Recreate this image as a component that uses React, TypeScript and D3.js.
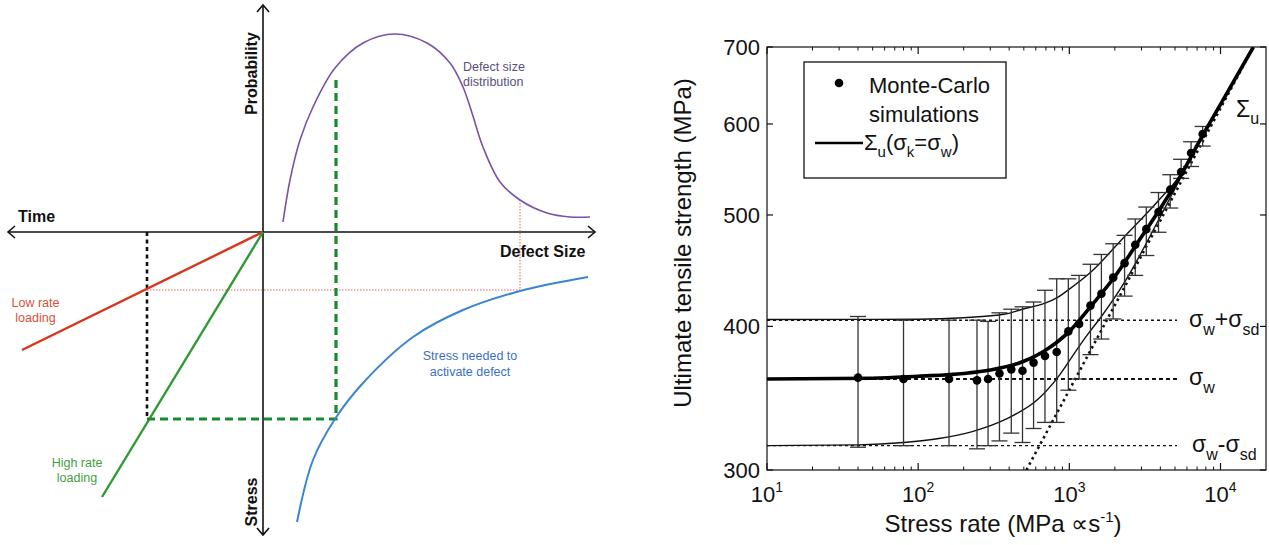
import React from 'react';
import * as d3 from 'd3';

// ---------- Right chart: Monte-Carlo data ----------
const mcRates = [40, 80, 160, 245, 290, 345, 413, 490, 580, 690, 825, 985, 1160, 1380, 1630, 1950, 2320, 2730, 3230, 3890, 4650, 5490, 6390, 7620];
const mcMean = [361, 360, 360, 359, 360, 364, 367, 366, 372, 377, 380, 396, 402, 417, 427, 441, 454, 471, 486, 503, 526, 545, 566, 588];
const mcLow = [314, 315, 315, 313, 315, 318, 323, 317, 326, 330, 330, 352, 360, 378, 390, 406, 425, 443, 461, 483, 507, 538, 551, 574];
const mcHigh = [408, 405, 405, 405, 404, 411, 414, 416, 420, 430, 440, 440, 443, 453, 462, 472, 480, 496, 508, 523, 542, 559, 579, 597];

// Sigma_u(sigma_k = sigma_w) thick curve
const sigURates = [10, 50, 100, 200, 300, 500, 700, 1000, 1400, 2000, 2800, 3900, 5500, 7600, 10000, 16500];
const sigUVals = [360, 360.5, 362, 364, 366.5, 373, 381.5, 396, 417, 442, 472, 504, 542, 586, 624, 700];
// upper thin curve (sigma_k = sigma_w + sigma_sd)
const upRates = [10, 100, 200, 377, 490, 690, 837, 1000, 1390, 2320, 3800, 5490, 7600, 10000, 16500];
const upVals = [405.5, 405.8, 407, 410, 414, 419, 424, 431, 446, 479, 513, 543, 586, 624, 700];
// lower thin curve (sigma_k = sigma_w - sigma_sd)
const loRates = [10, 40, 80, 137, 228, 377, 625, 837, 1140, 1330, 1630, 2320, 3800, 5490, 7600, 10000, 16500];
const loVals = [315, 315.5, 317, 319.5, 324, 332, 346, 361, 383, 394, 408, 437, 492, 540, 586, 624, 700];
// asymptote (dotted)
const asymRates = [520, 16500];
const asymVals = [300, 700];

// reference levels
const refLevels = [405, 360, 315];
const refLabelMain = ['σ', 'σ', 'σ'];

const yTicks = [300, 400, 500, 600, 700];
const xTicks = [10, 100, 1000, 10000];
const xTickExp = ['1', '2', '3', '4'];

// ---------- Left schematic data (units relative to axes origin) ----------
const defectDistX = [20, 27, 37, 50, 72, 100, 132, 164, 187, 200, 209, 220, 237, 257, 284, 307, 327];
const defectDistY = [10, 52, 92, 125, 164, 189, 198, 189, 169, 145, 119, 85, 50, 32, 19, 15, 15];
const stressNeededX = [34, 50, 72, 100, 150, 200, 257, 325];
const stressNeededY = [-290, -228, -187, -151, -105, -78, -59, -45];
const lowRateLine = [[0, 0], [-241, -118]];
const highRateLine = [[0, 0], [-161, -265]];
const loadTime = -116;
const highStress = -187;
const highDefect = 73;
const highProb = 157;
const lowStress = -58;
const lowDefect = 257;
const lowProb = 32;

const FONT = "'Liberation Sans', Arial, Helvetica, sans-serif";

export default function App() {
  // right chart scales
  const x = d3.scaleLog().domain([10, 20000]).range([767, 1266]);
  const y = d3.scaleLog().domain([300, 700]).range([470, 47]);
  const [L, R] = x.range();
  const [B, T] = y.range();
  const curve = (rs: number[], vs: number[]) =>
    d3.line<number>().x((_, i) => x(rs[i])).y((_, i) => y(vs[i])).curve(d3.curveMonotoneX)(rs) as string;

  const minorX: number[] = [];
  for (let d = 1; d <= 4; d++) for (let k = 2; k <= 9; k++) {
    const v = k * Math.pow(10, d);
    if (v < 20000) minorX.push(v);
  }

  // schematic scales
  const sx = d3.scaleLinear().domain([-255, 332]).range([8, 595]);
  const sy = d3.scaleLinear().domain([-303, 227]).range([535, 5]);
  const sLine = (xs: number[], ys: number[]) =>
    d3.line<number>().x((_, i) => sx(xs[i])).y((_, i) => sy(ys[i])).curve(d3.curveCatmullRom.alpha(0.5))(xs) as string;

  const ox = sx(0), oy = sy(0);
  const xLeft = sx(-255), xRight = sx(332), yTop = sy(227), yBot = sy(-303);

  const capW = 8;

  return (
    <svg width={1269} height={545} style={{ position: 'absolute', left: 0, top: 0, background: '#fff' }} fontFamily={FONT}>
      <rect x={0} y={0} width={1269} height={545} fill="#fff" />
      {/* ================= LEFT SCHEMATIC ================= */}
      <g>
        <line x1={xLeft} y1={oy} x2={xRight} y2={oy} stroke="#111" strokeWidth={1.6} />
        <line x1={ox} y1={yTop} x2={ox} y2={yBot} stroke="#111" strokeWidth={1.6} />
        <path d={`M${xLeft + 7},${oy - 6} L${xLeft},${oy} L${xLeft + 7},${oy + 6}`} fill="none" stroke="#111" strokeWidth={1.6} />
        <path d={`M${xRight - 7},${oy - 6} L${xRight},${oy} L${xRight - 7},${oy + 6}`} fill="none" stroke="#111" strokeWidth={1.6} />
        <path d={`M${ox - 6},${yTop + 7} L${ox},${yTop} L${ox + 6},${yTop + 7}`} fill="none" stroke="#111" strokeWidth={1.6} />
        <path d={`M${ox - 6},${yBot - 7} L${ox},${yBot} L${ox + 6},${yBot - 7}`} fill="none" stroke="#111" strokeWidth={1.6} />

        <line x1={sx(loadTime)} y1={oy} x2={sx(loadTime)} y2={sy(highStress)} stroke="#111" strokeWidth={2.6} strokeDasharray="4,3.5" />
        <line x1={sx(loadTime)} y1={sy(lowStress)} x2={sx(lowDefect)} y2={sy(lowStress)} stroke="#e8514a" strokeWidth={0.9} strokeDasharray="1.5,1.5" />
        <line x1={sx(lowDefect)} y1={sy(lowProb)} x2={sx(lowDefect)} y2={sy(lowStress)} stroke="#e8514a" strokeWidth={0.9} strokeDasharray="1.5,1.5" />

        <line x1={sx(lowRateLine[0][0])} y1={sy(lowRateLine[0][1])} x2={sx(lowRateLine[1][0])} y2={sy(lowRateLine[1][1])} stroke="#d9341e" strokeWidth={2.4} />
        <line x1={sx(highRateLine[0][0])} y1={sy(highRateLine[0][1])} x2={sx(highRateLine[1][0])} y2={sy(highRateLine[1][1])} stroke="#2e9a36" strokeWidth={2.4} />

        <path d={`M${sx(loadTime)},${sy(highStress)} L${sx(highDefect)},${sy(highStress)} L${sx(highDefect)},${sy(highProb)}`} fill="none" stroke="#178a2c" strokeWidth={3.2} strokeDasharray="8,5" />

        <path d={sLine(defectDistX, defectDistY)} fill="none" stroke="#7b52a6" strokeWidth={1.6} />
        <path d={sLine(stressNeededX, stressNeededY)} fill="none" stroke="#3a84d2" strokeWidth={2} />

        <text x={18} y={222} fontSize={16} fontWeight="bold" fill="#111">Time</text>
        <text x={500} y={257} fontSize={16} fontWeight="bold" fill="#111">Defect Size</text>
        <text transform={`translate(257,73.5) rotate(-90)`} textAnchor="middle" fontSize={16} fontWeight="bold" fill="#111">Probability</text>
        <text transform={`translate(257,502) rotate(-90)`} textAnchor="middle" fontSize={16} fontWeight="bold" fill="#111">Stress</text>

        <text x={463} y={70.5} fontSize={12.5} fill="#5d4d7d">Defect size</text>
        <text x={463} y={86} fontSize={12.5} fill="#5d4d7d">distribution</text>
        <text x={35.5} y={307} fontSize={12.5} fill="#d6503c" textAnchor="middle">Low rate</text>
        <text x={35.5} y={322} fontSize={12.5} fill="#d6503c" textAnchor="middle">loading</text>
        <text x={77} y={467} fontSize={12.5} fill="#3f9f44" textAnchor="middle">High rate</text>
        <text x={77} y={482} fontSize={12.5} fill="#3f9f44" textAnchor="middle">loading</text>
        <text x={470} y={360} fontSize={12.5} fill="#3b70c6" textAnchor="middle">Stress needed to</text>
        <text x={470} y={376} fontSize={12.5} fill="#3b70c6" textAnchor="middle">activate defect</text>
      </g>

      {/* ================= RIGHT CHART ================= */}
      <defs>
        <clipPath id="plotClip">
          <rect x={L} y={T} width={R - L} height={B - T} />
        </clipPath>
      </defs>
      <g>
        {refLevels.map((v, i) => (
          <line key={'ref' + i} x1={L} x2={1177} y1={y(v)} y2={y(v)} stroke="#111" strokeWidth={i === 1 ? 2 : 1.4} strokeDasharray={i === 1 ? '4,3' : '3,3'} />
        ))}
        <g clipPath="url(#plotClip)">
          <path d={curve(asymRates, asymVals)} fill="none" stroke="#111" strokeWidth={2.6} strokeDasharray="2.5,3.5" />
          <path d={curve(upRates, upVals)} fill="none" stroke="#111" strokeWidth={1.4} />
          <path d={curve(loRates, loVals)} fill="none" stroke="#111" strokeWidth={1.4} />
          {mcRates.map((r, i) => (
            <g key={'eb' + i} stroke="#333" strokeWidth={1.3}>
              <line x1={x(r)} x2={x(r)} y1={y(mcLow[i])} y2={y(mcHigh[i])} />
              <line x1={x(r) - capW} x2={x(r) + capW} y1={y(mcLow[i])} y2={y(mcLow[i])} />
              <line x1={x(r) - capW} x2={x(r) + capW} y1={y(mcHigh[i])} y2={y(mcHigh[i])} />
            </g>
          ))}
          <path d={curve(sigURates, sigUVals)} fill="none" stroke="#000" strokeWidth={3.6} />
          {mcRates.map((r, i) => (
            <circle key={'pt' + i} cx={x(r)} cy={y(mcMean[i])} r={4.3} fill="#000" />
          ))}
        </g>

        <rect x={L} y={T} width={R - L} height={B - T} fill="none" stroke="#111" strokeWidth={1.2} />

        {xTicks.map((v, i) => (
          <g key={'xt' + i}>
            <line x1={x(v)} x2={x(v)} y1={B} y2={B - 7} stroke="#111" strokeWidth={1.2} />
            <line x1={x(v)} x2={x(v)} y1={T} y2={T + 7} stroke="#111" strokeWidth={1.2} />
            <text x={x(v)} y={502} fontSize={22} textAnchor="middle" fill="#111">
              10<tspan fontSize={14} dy={-10}>{xTickExp[i]}</tspan>
            </text>
          </g>
        ))}
        {minorX.map((v, i) => (
          <g key={'mx' + i}>
            <line x1={x(v)} x2={x(v)} y1={B} y2={B - 3.5} stroke="#111" strokeWidth={1} />
            <line x1={x(v)} x2={x(v)} y1={T} y2={T + 3.5} stroke="#111" strokeWidth={1} />
          </g>
        ))}
        {yTicks.map((v, i) => (
          <g key={'yt' + i}>
            <line x1={L} x2={L + 6} y1={y(v)} y2={y(v)} stroke="#111" strokeWidth={1.2} />
            <line x1={R} x2={R - 6} y1={y(v)} y2={y(v)} stroke="#111" strokeWidth={1.2} />
            <text x={760} y={y(v) + 8} fontSize={22} textAnchor="end" fill="#111">{v}</text>
          </g>
        ))}

        <text transform="translate(691,243) rotate(-90)" textAnchor="middle" fontSize={24} fill="#111">Ultimate tensile strength (MPa)</text>
        <text x={1003} y={532} fontSize={24} textAnchor="middle" fill="#111">
          Stress rate (MPa ∝s<tspan fontSize={15} dy={-10}>-1</tspan><tspan dy={10}>)</tspan>
        </text>

        <rect x={804} y={62} width={202} height={116} fill="#fff" stroke="#111" strokeWidth={1.3} />
        <circle cx={839} cy={83} r={4.3} fill="#000" />
        <text x={869} y={93} fontSize={22} fill="#111">Monte-Carlo</text>
        <text x={869} y={122} fontSize={22} fill="#111">simulations</text>
        <line x1={815} x2={863} y1={143} y2={143} stroke="#000" strokeWidth={2.6} />
        <text x={864} y={150} fontSize={22} fill="#111">
          Σ<tspan fontSize={15} dy={7}>u</tspan><tspan dy={-7}>(σ</tspan><tspan fontSize={15} dy={7}>k</tspan><tspan dy={-7}>=σ</tspan><tspan fontSize={15} dy={7}>w</tspan><tspan dy={-7}>)</tspan>
        </text>

        <text x={1236} y={117} fontSize={23} fill="#111">Σ<tspan fontSize={16} dy={7}>u</tspan></text>
        <text x={1189} y={y(refLevels[0]) + 7} fontSize={23} fill="#111">
          {refLabelMain[0]}<tspan fontSize={16} dy={8}>w</tspan><tspan dy={-8}>+σ</tspan><tspan fontSize={16} dy={8}>sd</tspan>
        </text>
        <text x={1189} y={y(refLevels[1]) + 6} fontSize={23} fill="#111">
          {refLabelMain[1]}<tspan fontSize={16} dy={8}>w</tspan>
        </text>
        <text x={1192} y={y(refLevels[2]) + 6} fontSize={23} fill="#111">
          {refLabelMain[2]}<tspan fontSize={16} dy={8}>w</tspan><tspan dy={-8}>-σ</tspan><tspan fontSize={16} dy={8}>sd</tspan>
        </text>
      </g>
    </svg>
  );
}
